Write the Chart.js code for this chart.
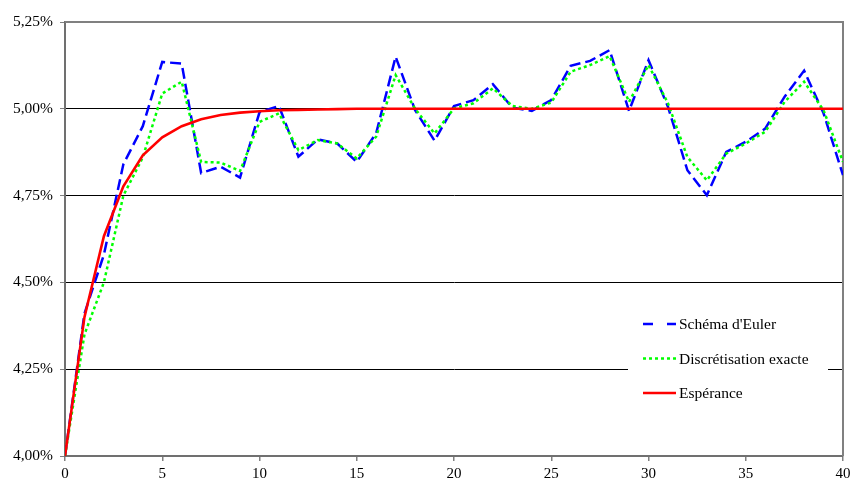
<!DOCTYPE html>
<html>
<head>
<meta charset="utf-8">
<script src="https://cdn.jsdelivr.net/npm/chart.js@4/dist/chart.umd.min.js"></script>
<style>
  html, body { margin: 0; padding: 0; background: #fff; }
  #wrap { width: 852px; height: 484px; }
</style>
</head>
<body>
<div id="wrap"><canvas id="c" width="852" height="484"></canvas></div>
<script>
const steps = [0,1,2,3,4,5,6,7,8,9,10,11,12,13,14,15,16,17,18,19,20,21,22,23,24,25,26,27,28,29,30,31,32,33,34,35,36,37,38,39,40];

const euler = [4.00,4.41,4.58,4.84,4.95,5.135,5.13,4.815,4.833,4.802,4.99,5.008,4.862,4.912,4.90,4.847,4.93,5.15,4.996,4.908,5.008,5.025,5.071,5.003,4.994,5.025,5.124,5.138,5.169,4.994,5.14,5.006,4.823,4.751,4.876,4.905,4.943,5.035,5.11,4.987,4.809];

const exacte = [4.00,4.35,4.50,4.75,4.86,5.044,5.078,4.847,4.845,4.821,4.962,4.987,4.881,4.91,4.90,4.857,4.92,5.097,5.00,4.929,5.001,5.016,5.059,5.008,5.00,5.018,5.107,5.126,5.152,5.02,5.126,5.016,4.861,4.794,4.871,4.90,4.934,5.02,5.078,4.996,4.847];

const esperance = [4.00,4.40,4.633,4.777,4.866,4.918,4.95,4.97,4.982,4.989,4.993,4.996,4.997,4.998,4.999,5.00,5.00,5.00,5.00,5.00,5.00,5.00,5.00,5.00,5.00,5.00,5.00,5.00,5.00,5.00,5.00,5.00,5.00,5.00,5.00,5.00,5.00,5.00,5.00,5.00,5.00];

const seriesNames = ["Schéma d'Euler", "Discrétisation exacte", "Espérance"];
const yTicks = [4.00, 4.25, 4.50, 4.75, 5.00, 5.25];
const xTicks = [0, 5, 10, 15, 20, 25, 30, 35, 40];

const FONT = "'Liberation Serif', 'Times New Roman', serif";

const toPts = arr => arr.map((v, i) => ({ x: steps[i], y: v }));

const styles = [
  { color: '#0000FF', dash: [11, 5], width: 2.5 },
  { color: '#00FF00', dash: [3, 3], width: 2.5 },
  { color: '#FF0000', dash: [], width: 2.6 }
];

const framePlugin = {
  id: 'frame',
  beforeDatasetsDraw(chart) {
    const { ctx, chartArea: { left, right, top, bottom } } = chart;
    ctx.save();
    ctx.strokeStyle = '#808080';
    ctx.lineWidth = 2;
    ctx.beginPath();
    ctx.moveTo(left, top);
    ctx.lineTo(right, top);
    ctx.lineTo(right, bottom);
    ctx.stroke();
    ctx.restore();
  },
  afterDraw(chart) {
    const ctx = chart.ctx;
    ctx.save();
    ctx.fillStyle = '#fff';
    ctx.fillRect(628, 302, 200, 114);
    const rows = [324, 358.5, 393];
    ctx.font = '15.5px ' + FONT;
    ctx.textBaseline = 'middle';
    ctx.textAlign = 'left';
    seriesNames.forEach((name, i) => {
      const s = styles[i];
      ctx.strokeStyle = s.color;
      ctx.lineWidth = s.width;
      ctx.setLineDash(i === 0 ? [10, 14] : s.dash);
      ctx.beginPath();
      ctx.moveTo(643, rows[i]);
      ctx.lineTo(676, rows[i]);
      ctx.stroke();
      ctx.setLineDash([]);
      ctx.fillStyle = '#000';
      ctx.fillText(name, 679, rows[i] + 1);
    });
    ctx.restore();
  }
};

const datasets = [euler, exacte, esperance].map((arr, i) => ({
  label: seriesNames[i],
  data: toPts(arr),
  borderColor: styles[i].color,
  borderWidth: styles[i].width,
  borderDash: styles[i].dash,
  pointRadius: 0,
  fill: false,
  tension: 0,
  order: 3 - i
}));

new Chart(document.getElementById('c'), {
  type: 'line',
  data: { datasets },
  plugins: [framePlugin],
  options: {
    responsive: false,
    animation: false,
    events: [],
    layout: { padding: { left: 0, right: 9, top: 22, bottom: 0 } },
    plugins: { legend: { display: false }, tooltip: { enabled: false } },
    scales: {
      x: {
        type: 'linear',
        min: 0, max: 40,
        afterBuildTicks: s => { s.ticks = xTicks.map(v => ({ value: v })); },
        afterFit: s => { s.height = 28; s.paddingRight = 0; s.paddingLeft = 0; },
        grid: { drawOnChartArea: false, drawTicks: true, tickLength: 5, tickColor: '#808080', lineWidth: 1.5 },
        border: { color: '#707070', width: 2 },
        ticks: { color: '#000', font: { family: FONT, size: 15 }, padding: 4, maxRotation: 0,
                 callback: v => String(v) }
      },
      y: {
        min: 4.0, max: 5.25,
        afterBuildTicks: s => { s.ticks = yTicks.map(v => ({ value: v })); },
        afterFit: s => { s.width = 65; s.paddingTop = 0; s.paddingBottom = 0; },
        grid: {
          drawTicks: true, tickLength: 5, tickColor: '#808080',
          color: c => (c.tick && (c.tick.value === 5.25 || c.tick.value === 4.0)) ? '#808080' : '#000000',
          lineWidth: 1
        },
        border: { color: '#707070', width: 2 },
        ticks: { color: '#000', font: { family: FONT, size: 15.5 }, padding: 7,
                 callback: v => v.toFixed(2).replace('.', ',') + '%' }
      }
    }
  }
});
</script>
</body>
</html>
